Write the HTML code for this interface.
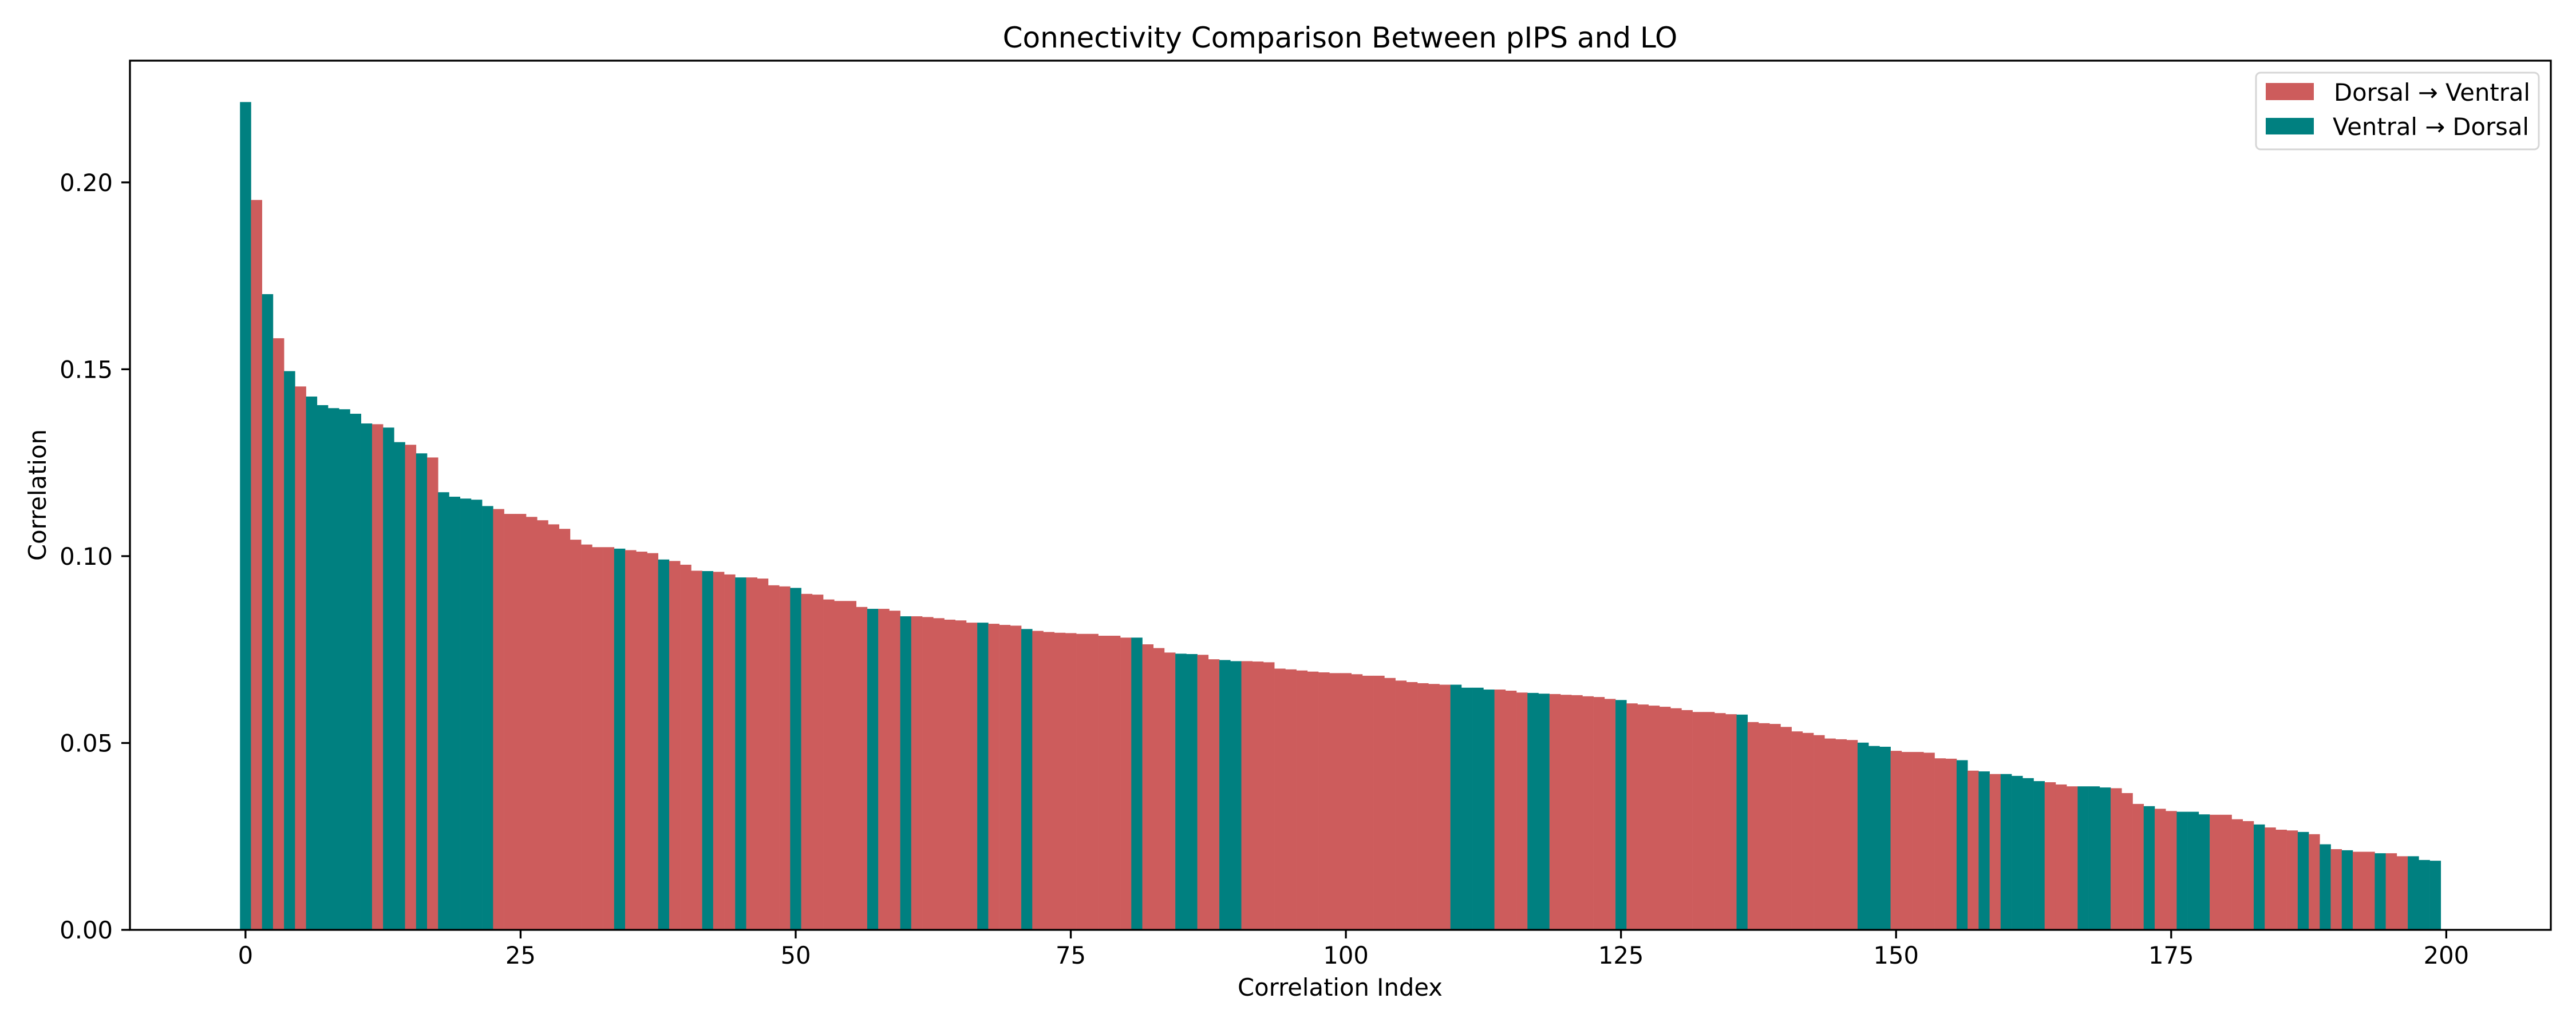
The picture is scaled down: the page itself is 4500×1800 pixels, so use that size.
<!DOCTYPE html>
<html>
<head>
<meta charset="utf-8">
<style>
  html, body { margin: 0; padding: 0; background: #ffffff; }
  svg { display: block; }
  text { font-family: "DejaVu Sans", "Liberation Sans", sans-serif; fill: #000; }
</style>
</head>
<body>
<svg id="chart" xmlns="http://www.w3.org/2000/svg" width="4500" height="1800" viewBox="0 0 4500 1800">
  <rect x="0" y="0" width="4500" height="1800" fill="#ffffff"/>
  <text x="2341" y="83" font-size="50" text-anchor="middle">Connectivity Comparison Between pIPS and LO</text>
  <g id="bars"></g>
  <g id="axes"></g>
  <text x="2341" y="1740" font-size="41.7" text-anchor="middle">Correlation Index</text>
  <text x="80" y="865" font-size="41.7" text-anchor="middle" transform="rotate(-90 80 865)">Correlation</text>
  <g id="legend">
    <rect x="3941" y="127" width="494" height="134" rx="8" ry="8" fill="#ffffff" fill-opacity="0.8" stroke="#d6d6d6" stroke-width="3"/>
    <rect x="3958" y="145" width="84" height="30" fill="#cd5c5c"/>
    <text x="4077" y="176" font-size="41.7">Dorsal → Ventral</text>
    <rect x="3958" y="206" width="84" height="29" fill="#008080"/>
    <text x="4075" y="236" font-size="41.7">Ventral → Dorsal</text>
  </g>
</svg>
<script>
// ---- data ----
const values = [
0.2215,0.1953,0.1701,0.1583,0.1495,0.1454,0.1427,0.1404,0.1396,0.1393,
0.1381,0.1355,0.1353,0.1344,0.1305,0.1298,0.1275,0.1264,0.1171,0.1159,
0.1154,0.1151,0.1134,0.1126,0.1113,0.1113,0.1105,0.1096,0.1085,0.1073,
0.1044,0.1031,0.1024,0.1024,0.1020,0.1016,0.1012,0.1008,0.0991,0.0987,
0.0977,0.0961,0.0960,0.0958,0.0951,0.0943,0.0943,0.0940,0.0922,0.0919,
0.0915,0.0899,0.0897,0.0884,0.0880,0.0880,0.0864,0.0859,0.0859,0.0854,
0.0839,0.0839,0.0837,0.0834,0.0830,0.0828,0.0822,0.0822,0.0819,0.0816,
0.0814,0.0805,0.0800,0.0797,0.0795,0.0794,0.0792,0.0792,0.0787,0.0787,
0.0782,0.0782,0.0764,0.0754,0.0742,0.0739,0.0738,0.0736,0.0724,0.0722,
0.0719,0.0719,0.0718,0.0716,0.0699,0.0697,0.0694,0.0691,0.0689,0.0687,
0.0687,0.0684,0.0680,0.0680,0.0674,0.0667,0.0663,0.0660,0.0658,0.0656,
0.0656,0.0648,0.0648,0.0643,0.0643,0.0640,0.0635,0.0634,0.0632,0.0631,
0.0629,0.0628,0.0625,0.0623,0.0618,0.0615,0.0606,0.0603,0.0600,0.0597,
0.0593,0.0588,0.0583,0.0583,0.0580,0.0577,0.0576,0.0556,0.0553,0.0551,
0.0543,0.0531,0.0527,0.0521,0.0512,0.0510,0.0508,0.0501,0.0492,0.0490,
0.0479,0.0476,0.0476,0.0474,0.0459,0.0458,0.0454,0.0426,0.0424,0.0417,
0.0417,0.0412,0.0406,0.0398,0.0395,0.0389,0.0384,0.0384,0.0384,0.0381,
0.0379,0.0366,0.0337,0.0331,0.0324,0.0318,0.0316,0.0316,0.0309,0.0308,
0.0308,0.0296,0.0291,0.0282,0.0274,0.0268,0.0266,0.0262,0.0256,0.0229,
0.0216,0.0213,0.0209,0.0209,0.0205,0.0205,0.0197,0.0197,0.0187,0.0185
];
// direction per bar: D = Dorsal → Ventral, V = Ventral → Dorsal
const directions = (
"VDVDVDVVVVVVDVVDVDVVVVVDDDDDDDDDDDVDDDVDDDVDDVDDDDVDDDDDDVDDVDDDDDDVDDDV" +
"DDDDDDDDDVDDDVVDDVVDDDDDDDDDDDDDDDDDDDVVVVDDDVVDDDDDDVDDDDDDDDDDVDDDDDDDDDDVVVDDDDDDVDVDVVVVDDDVVVDDDVDDVVVDDDDVDDDVDVDVDDVDDVVV"
).split("");
const yTickValues = [0, 0.05, 0.10, 0.15, 0.20];
const yTickLabels = ["0.00", "0.05", "0.10", "0.15", "0.20"];
const xTickValues = [0, 25, 50, 75, 100, 125, 150, 175, 200];
const xTickLabels = ["0", "25", "50", "75", "100", "125", "150", "175", "200"];

// ---- axes geometry ----
const NS = "http://www.w3.org/2000/svg";
const PL = 227, PR = 4456, PT = 106, PB = 1625;
const xMin = -10.5, xMax = 209.5;
const yMin = 0, yMax = Math.max(...values) * 1.05;
function xScale(v) { return PL + (v - xMin) / (xMax - xMin) * (PR - PL); }
function yScale(v) { return PB - (v - yMin) / (yMax - yMin) * (PB - PT); }
const colorFor = { D: "#cd5c5c", V: "#008080" };

function mk(tag, attrs) {
  const e = document.createElementNS(NS, tag);
  for (const k in attrs) e.setAttribute(k, attrs[k]);
  return e;
}

const barsG = document.getElementById("bars");
values.forEach(function (v, i) {
  const x0 = xScale(i - 0.5), x1 = xScale(i + 0.5);
  const y = yScale(v);
  const dir = directions[i] || "D";
  const r = mk("rect", { x: x0.toFixed(2), y: y.toFixed(2), width: (x1 - x0 + 0.3).toFixed(2), height: (PB - y).toFixed(2), fill: colorFor[dir] });
  
  
  barsG.appendChild(r);
});

const axesG = document.getElementById("axes");
const frame = mk("rect", { x: PL, y: PT, width: PR - PL, height: PB - PT, fill: "none", stroke: "#000", "stroke-width": 3.3 });


axesG.appendChild(frame);

yTickValues.forEach(function (v, i) {
  const y = yScale(v);
  const t = mk("line", { x1: PL - 15, x2: PL, y1: y, y2: y, stroke: "#000", "stroke-width": 3.3 });
  
  
  axesG.appendChild(t);
  const lb = mk("text", { x: 197, y: y + 15, "font-size": 41.7, "text-anchor": "end" });
  lb.textContent = yTickLabels[i];
  
  
  axesG.appendChild(lb);
});

xTickValues.forEach(function (v, i) {
  const x = xScale(v);
  const t = mk("line", { x1: x, x2: x, y1: PB, y2: PB + 15, stroke: "#000", "stroke-width": 3.3 });
  
  
  axesG.appendChild(t);
  const lb = mk("text", { x: x, y: 1684, "font-size": 41.7, "text-anchor": "middle" });
  lb.textContent = xTickLabels[i];
  
  
  axesG.appendChild(lb);
});
</script>
</body>
</html>
